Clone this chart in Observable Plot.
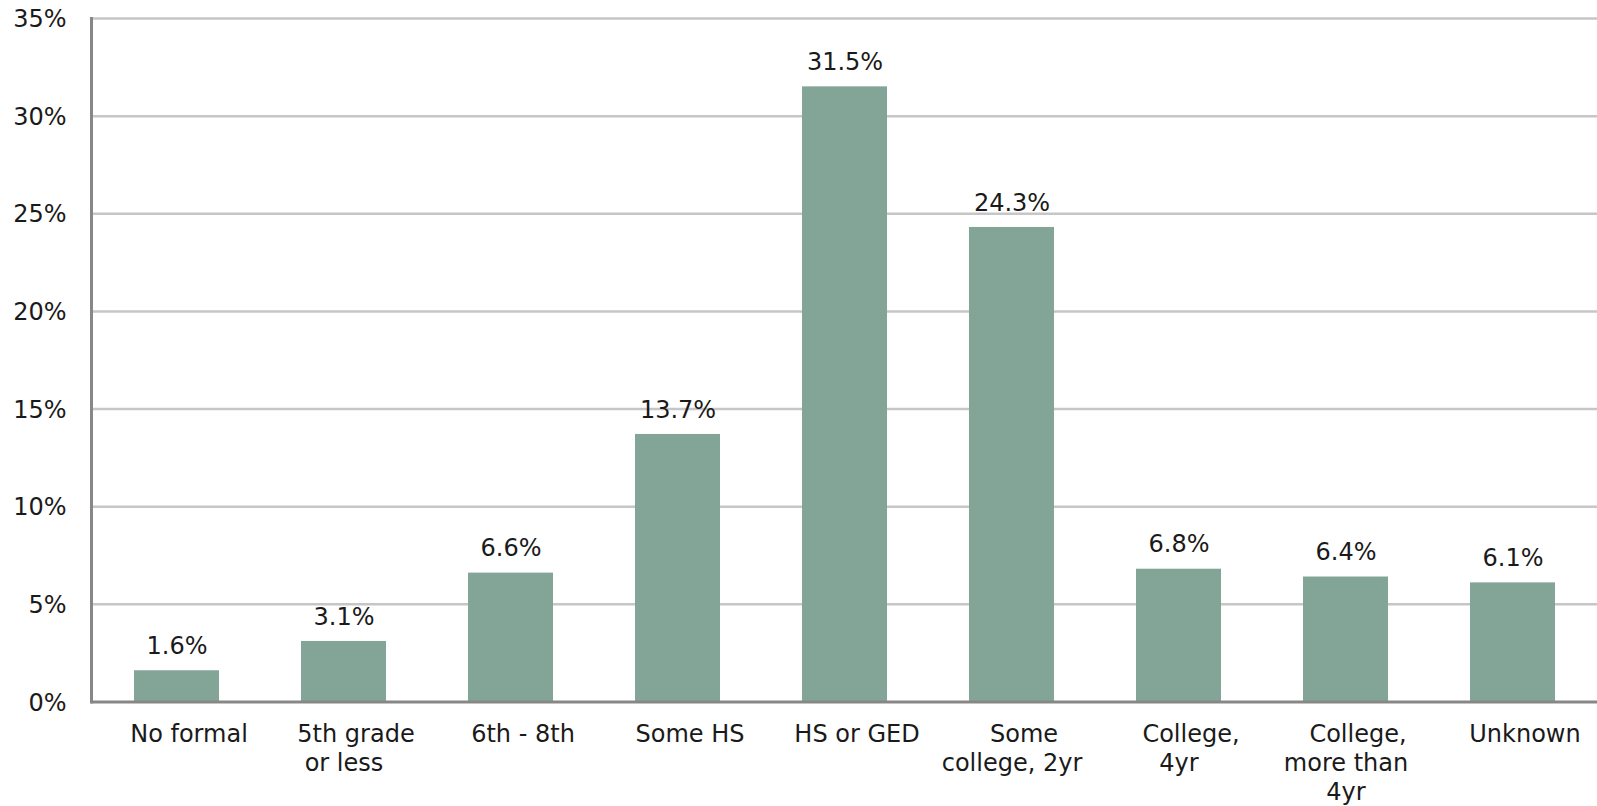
<!DOCTYPE html>
<html>
<head>
<meta charset="utf-8">
<script src="https://cdn.jsdelivr.net/npm/d3@7"></script>
<script src="https://cdn.jsdelivr.net/npm/@observablehq/plot@0.6"></script>
<style>
  html, body { margin: 0; padding: 0; background: #ffffff; }
  #chart svg { display: block; }
</style>
</head>
<body>
<div id="chart"></div>
<script>
// Share of people by highest education level (%)
const categories = ["No formal", "5th grade or less", "6th - 8th", "Some HS", "HS or GED",
  "Some college, 2yr", "College, 4yr", "College, more than 4yr", "Unknown"];
const tickLabels = ["No formal", "5th grade\nor less", "6th - 8th", "Some HS", "HS or GED",
  "Some\ncollege, 2yr", "College,\n4yr", "College,\nmore than\n4yr", "Unknown"];
const values = [1.6, 3.1, 6.6, 13.7, 31.5, 24.3, 6.8, 6.4, 6.1];
const yTicks = [0, 5, 10, 15, 20, 25, 30, 35];

const rows = categories.map((c, i) => ({
  category: c,
  value: values[i],
  first: tickLabels[i].split("\n")[0],
  rest: tickLabels[i].split("\n").slice(1).join("\n")
}));

const font = "'DejaVu Sans', Verdana, sans-serif";
const ink = "#1a1a1a";
const fs = 24;

const chart = Plot.plot({
  width: 1597,
  height: 806,
  marginTop: 18,
  marginBottom: 104.5,
  marginLeft: 91,
  marginRight: 0,
  style: { fontFamily: font, color: ink, background: "#ffffff" },
  x: { domain: categories, paddingInner: 0.494, paddingOuter: 0.247, axis: null },
  y: { domain: [0, 35], axis: null },
  marks: [
    // horizontal gridlines
    Plot.ruleY(yTicks.filter(d => d > 0), { stroke: "#c6c6c6", strokeWidth: 2.5 }),
    // bars
    Plot.barY(rows, { x: "category", y: "value", fill: "#83a597" }),
    // value labels above each bar
    Plot.text(rows, {
      x: "category", y: "value", text: d => d.value.toFixed(1) + "%",
      lineAnchor: "top", dy: -34, fontSize: fs, fill: ink, fontFamily: font
    }),
    // axis lines
    Plot.frame({ anchor: "left", stroke: "#878787", strokeWidth: 3 }),
    Plot.ruleY([0], { stroke: "#878787", strokeWidth: 3 }),
    // y tick labels
    Plot.text(yTicks, {
      y: d => d, text: d => d + "%", frameAnchor: "left", textAnchor: "end",
      dx: -25, dy: 1, fontSize: fs, fill: ink, fontFamily: font
    }),
    // category labels: first line
    Plot.text(rows, {
      x: "category", text: "first", frameAnchor: "bottom", lineAnchor: "top",
      dy: 23, dx: 12, fontSize: fs, fill: ink, fontFamily: font
    }),
    // category labels: remaining lines
    Plot.text(rows.filter(d => d.rest), {
      x: "category", text: "rest", frameAnchor: "bottom", lineAnchor: "top",
      dy: 48, lineHeight: 1.21, fontSize: fs, fill: ink, fontFamily: font
    })
  ]
});

document.getElementById("chart").appendChild(chart);
</script>
</body>
</html>
